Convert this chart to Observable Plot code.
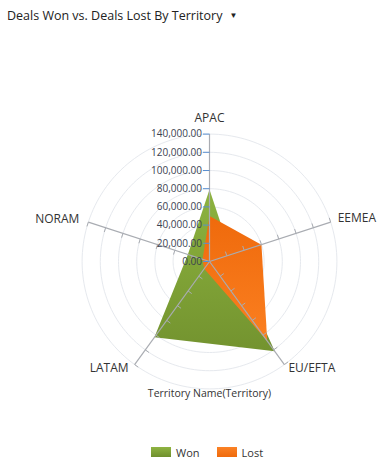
<!DOCTYPE html>
<html>
<head>
<meta charset="utf-8">
<script src="https://cdn.jsdelivr.net/npm/d3@7"></script>
<script src="https://cdn.jsdelivr.net/npm/@observablehq/plot@0.6"></script>
<style>
  html, body { margin: 0; padding: 0; background: #fff; }
  body { width: 385px; height: 461px; overflow: hidden; font-family: "Open Sans", "Noto Sans", sans-serif; }
  #title { height: 28px; line-height: 30px; padding-left: 7px; font-size: 12.5px; color: #222; white-space: nowrap; }
  #title .caret { font-size: 8px; margin-left: 7px; vertical-align: 2px; }
  #legend { height: 20px; display: flex; justify-content: flex-start; align-items: center; font-size: 11px; color: #333; margin-top: 14px; padding-left: 151px; }
  #legend .item { display: flex; align-items: center; margin-right: 17px; }
  #legend .sw { width: 20px; height: 10px; margin-right: 5px; }
  svg { display: block; }
</style>
</head>
<body>
<div id="title">Deals Won vs. Deals Lost By Territory<span class="caret">&#9660;</span></div>
<div id="chart"></div>
<div id="legend"></div>
<script>
// ---- data ----
const territories = ["APAC", "EEMEA", "EU/EFTA", "LATAM", "NORAM"];
const wonValues  = [79000, 25000, 122000, 103000, 25000];
const lostValues = [50000, 60000, 108000, 10000, 8000];
const seriesNames = ["Won", "Lost"];
const tickValues = [0, 20000, 40000, 60000, 80000, 100000, 120000, 140000];
const tickLabels = ["0.00", "20,000.00", "40,000.00", "60,000.00", "80,000.00", "100,000.00", "120,000.00", "140,000.00"];
const axisTitle = "Territory Name(Territory)";

// ---- geometry ----
const W = 385, H = 400;
const cx = 209, cy = 233;          // centre in svg px
const maxV = 140000;
const k = 127.4 / maxV;            // px per unit
const n = territories.length;
const ang = i => (i * 2 * Math.PI) / n;   // clockwise from up
const px = (v, i) => v * Math.sin(ang(i));
const py = (v, i) => v * Math.cos(ang(i));

const polyWon  = territories.map((t, i) => ({t, x: px(wonValues[i], i),  y: py(wonValues[i], i)}));
const polyLost = territories.map((t, i) => ({t, x: px(lostValues[i], i), y: py(lostValues[i], i)}));

// rings
const rings = [];
for (const v of tickValues.slice(1)) {
  for (let j = 0; j <= 180; j++) {
    const a = (j / 180) * 2 * Math.PI;
    rings.push({ring: v, x: v * Math.sin(a), y: v * Math.cos(a)});
  }
}
// spokes
const spokes = territories.map((t, i) => ({x1: 0, y1: 0, x2: px(maxV, i), y2: py(maxV, i)}));
// small ticks on non-APAC spokes (counter-clockwise side)
const tl = 4.5 / k;
const spokeTicks = [];
territories.forEach((t, i) => {
  if (i === 0) return;
  const nx = -Math.cos(ang(i)), ny = Math.sin(ang(i));
  for (const v of tickValues.slice(1)) {
    spokeTicks.push({x1: px(v, i), y1: py(v, i), x2: px(v, i) + nx * tl, y2: py(v, i) + ny * tl});
  }
});
const apacTicks = tickValues.map((v, j) => ({v, label: tickLabels[j], x1: -6.5 / k, x2: 0}));
const lab = territories.map((t, i) => ({t, i, x: px(maxV, i), y: py(maxV, i)}));

const plot = Plot.plot({
  width: W, height: H,
  margin: 0,
  style: {fontFamily: "'Open Sans', 'Noto Sans', sans-serif", background: "transparent"},
  x: {domain: [-cx / k, (W - cx) / k], axis: null},
  y: {domain: [-(H - cy) / k, cy / k], axis: null},
  marks: [
    Plot.line(rings, {x: "x", y: "y", z: "ring", stroke: "#e6e9ee", strokeWidth: 1}),
    Plot.line(polyWon,  {x: "x", y: "y", fill: "url(#gWon)", stroke: "none", curve: "linear-closed"}),
    Plot.line(polyLost, {x: "x", y: "y", fill: "url(#gLost)", stroke: "none", curve: "linear-closed"}),
    Plot.link(spokes, {x1: "x1", y1: "y1", x2: "x2", y2: "y2", stroke: "#a9acb2", strokeWidth: 1.2}),
    Plot.link(spokeTicks, {x1: "x1", y1: "y1", x2: "x2", y2: "y2", stroke: "#a9acb2", strokeWidth: 1}),
    Plot.link(apacTicks, {x1: "x1", x2: "x2", y1: "v", y2: "v", stroke: "#5a8fd0", strokeWidth: 1}),
    Plot.text(apacTicks, {x: 0, y: "v", text: "label", textAnchor: "end", dx: -7.5, fill: "#3b4250", fontSize: 10}),
    Plot.text(lab.filter(d => d.i === 0), {x: "x", y: "y", text: "t", dy: -16, fill: "#333", fontSize: 12}),
    Plot.text(lab.filter(d => d.i === 1), {x: "x", y: "y", text: "t", textAnchor: "start", dx: 7, dy: -4, fill: "#333", fontSize: 12}),
    Plot.text(lab.filter(d => d.i === 2), {x: "x", y: "y", text: "t", textAnchor: "start", dx: 4, dy: 4, fill: "#333", fontSize: 12}),
    Plot.text(lab.filter(d => d.i === 3), {x: "x", y: "y", text: "t", textAnchor: "end", dx: -6, dy: 4, fill: "#333", fontSize: 12}),
    Plot.text(lab.filter(d => d.i === 4), {x: "x", y: "y", text: "t", textAnchor: "end", dx: -9, dy: -3, fill: "#333", fontSize: 12}),
    Plot.text([axisTitle], {x: 0, y: -maxV, text: d => d, dy: 5, fill: "#333", fontSize: 10.5, letterSpacing: "-0.3px"})
  ]
});

// gradient defs
const ns = "http://www.w3.org/2000/svg";
const defs = document.createElementNS(ns, "defs");
defs.innerHTML = `
  <linearGradient id="gWon" x1="0" y1="0" x2="0" y2="1">
    <stop offset="0" stop-color="#8db33f"/><stop offset="1" stop-color="#73932f"/>
  </linearGradient>
  <linearGradient id="gLost" x1="0" y1="0" x2="0" y2="1">
    <stop offset="0" stop-color="#ef6a0c"/><stop offset="1" stop-color="#fb7f20"/>
  </linearGradient>`;
plot.insertBefore(defs, plot.firstChild);
document.getElementById("chart").appendChild(plot);

// legend
const legend = document.getElementById("legend");
const swFill = ["linear-gradient(#8fb442, #6f8f2d)", "linear-gradient(#fb8226, #ef6a0c)"];
seriesNames.forEach((s, i) => {
  const it = document.createElement("div");
  it.className = "item";
  it.innerHTML = `<span class="sw" style="background:${swFill[i]}"></span><span>${s}</span>`;
  legend.appendChild(it);
});
</script>
</body>
</html>
